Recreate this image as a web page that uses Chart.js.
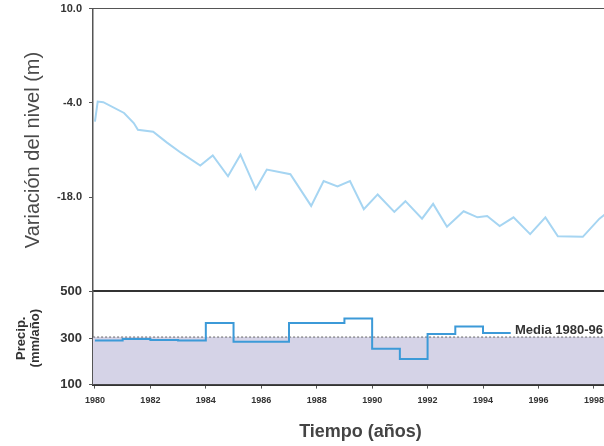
<!DOCTYPE html>
<html>
<head>
<meta charset="utf-8">
<script src="https://cdn.jsdelivr.net/npm/chart.js@4"></script>
<style>
  body { margin: 0; background: #fff; }
  #wrap { position: relative; width: 604px; height: 446px; overflow: hidden; }
  #top { position: absolute; left: 0; top: -5px; }
  #bottom { position: absolute; left: 0; top: 277px; }
</style>
</head>
<body>
<div id="wrap">
  <canvas id="top" width="628" height="310"></canvas>
  <canvas id="bottom" width="628" height="170"></canvas>
</div>
<script>
// nivel (m)
const levelYears = [1980, 1980.1, 1980.3, 1981.05, 1981.4, 1981.55, 1982.1, 1982.6, 1983.1, 1983.8,
  1984.25, 1984.8, 1985.25, 1985.8, 1986.2, 1987.05, 1987.8, 1988.25, 1988.75, 1989.2,
  1989.7, 1990.2, 1990.8, 1991.2, 1991.8, 1992.2, 1992.7, 1993.3, 1993.8, 1994.15,
  1994.6, 1995.1, 1995.7, 1996.25, 1996.7, 1997.6, 1998.2, 1998.45];
const levelValues = [-6.8, -3.8, -3.9, -5.5, -7.0, -8.0, -8.3, -9.9, -11.4, -13.3,
  -11.8, -14.9, -11.7, -16.8, -13.9, -14.6, -19.3, -15.6, -16.4, -15.6,
  -19.8, -17.6, -20.2, -18.6, -21.2, -19.0, -22.4, -20.1, -21.0, -20.8,
  -22.3, -21.0, -23.5, -21.0, -23.8, -23.9, -21.2, -20.4];

// precipitacion anual (mm/año), last value repeated to close the step
const precipYears = [1980, 1981, 1982, 1983, 1984, 1985, 1986, 1987, 1988, 1989, 1990, 1991, 1992, 1993, 1994, 1995];
const precipValues = [290, 297, 292, 290, 365, 285, 285, 365, 365, 385, 255, 210, 318, 350, 322, 322];

const meanYears = [1979.5, 1999.5];
const meanValues = [305, 305];
const meanLabel = "Media 1980-96";

const levelTicks = [10, -4, -18];
const precipTicks = [100, 300, 500];
const yearTicks = [1980, 1982, 1984, 1986, 1988, 1990, 1992, 1994, 1996, 1998];

// the page only shows up to ~1998.3, the canvases run past the right edge
const xMin = 1979.93, xMax = 1999.23;
const ink = "#333";

const toPoints = (xs, ys) => xs.map((x, i) => ({ x: x, y: ys[i] }));

new Chart(document.getElementById("top"), {
  type: "line",
  data: {
    datasets: [{
      data: toPoints(levelYears, levelValues),
      borderColor: "#a6d5f2",
      borderWidth: 2,
      pointRadius: 0,
      tension: 0
    }]
  },
  options: {
    responsive: false,
    animation: false,
    layout: { padding: { top: 6, left: 20, right: 0, bottom: 2 } },
    plugins: { legend: { display: false }, tooltip: { enabled: false } },
    scales: {
      x: {
        type: "linear", min: xMin, max: xMax,
        ticks: { display: false },
        grid: { display: false, drawTicks: false },
        border: { color: ink, width: 2 }
      },
      x2: {
        type: "linear", position: "top", min: xMin, max: xMax,
        ticks: { display: false },
        grid: { display: false, drawTicks: false },
        border: { color: "#555", width: 1 }
      },
      y: {
        min: -32, max: 10,
        afterBuildTicks: (s) => { s.ticks = levelTicks.map(v => ({ value: v })); },
        afterFit: (s) => { s.width = 73; },
        ticks: {
          color: ink, padding: 7,
          font: { family: "Arial, Liberation Sans", size: 11, weight: "bold" },
          callback: (v) => v.toFixed(1)
        },
        grid: { drawOnChartArea: false, tickLength: 4, color: "#555" },
        border: { color: "#555", width: 1.5 },
        title: {
          display: true, text: "Variación del nivel (m)", color: "#4a4a4a",
          font: { family: "Arial, Liberation Sans", size: 20 },
          padding: { top: 1, bottom: 0 }
        }
      }
    }
  }
});

const mediaText = {
  id: "mediaText",
  afterDraw(chart) {
    const ctx = chart.ctx;
    const x = chart.scales.x.getPixelForValue(1995.15);
    const y = chart.scales.y.getPixelForValue(333);
    ctx.save();
    ctx.fillStyle = ink;
    ctx.font = "bold 13px Arial, Liberation Sans";
    ctx.textBaseline = "middle";
    ctx.fillText(meanLabel, x, y);
    ctx.restore();
  }
};

new Chart(document.getElementById("bottom"), {
  type: "line",
  data: {
    datasets: [{
      data: toPoints(precipYears, precipValues),
      borderColor: "#3c9ad8",
      borderWidth: 2,
      pointRadius: 0,
      stepped: "before",
      fill: false
    }, {
      data: toPoints(meanYears, meanValues),
      borderColor: "#666",
      borderWidth: 1,
      borderDash: [2, 2],
      pointRadius: 0,
      fill: "start",
      backgroundColor: "#d5d3e7"
    }]
  },
  options: {
    responsive: false,
    animation: false,
    layout: { padding: { top: 10, left: 13, right: 0, bottom: 1 } },
    plugins: { legend: { display: false }, tooltip: { enabled: false } },
    scales: {
      x: {
        type: "linear", min: xMin, max: xMax,
        afterBuildTicks: (s) => { s.ticks = yearTicks.map(v => ({ value: v })); },
        ticks: {
          color: ink, padding: 7, maxRotation: 0,
          font: { family: "Arial, Liberation Sans", size: 9, weight: "bold" },
          callback: (v) => String(v)
        },
        grid: { drawOnChartArea: false, tickLength: 4, color: "#555" },
        border: { color: ink, width: 2 },
        title: {
          display: true, text: "Tiempo (años)", color: "#444",
          font: { family: "Arial, Liberation Sans", size: 18, weight: "bold" },
          padding: { top: 8, bottom: 3 }
        }
      },
      y: {
        min: 100, max: 500,
        afterBuildTicks: (s) => { s.ticks = precipTicks.map(v => ({ value: v })); },
        afterFit: (s) => { s.width = 80; },
        ticks: {
          color: ink, padding: 7,
          font: { family: "Arial, Liberation Sans", size: 13, weight: "bold" }
        },
        grid: { drawOnChartArea: false, tickLength: 4, color: "#555" },
        border: { color: "#555", width: 1.5 },
        title: {
          display: true, text: ["Precip.", "(mm/año)"], color: ink,
          font: { family: "Arial, Liberation Sans", size: 13, weight: "bold", lineHeight: 1.1 },
          padding: { top: 1, bottom: 0 }
        }
      }
    }
  },
  plugins: [mediaText]
});
</script>
</body>
</html>
